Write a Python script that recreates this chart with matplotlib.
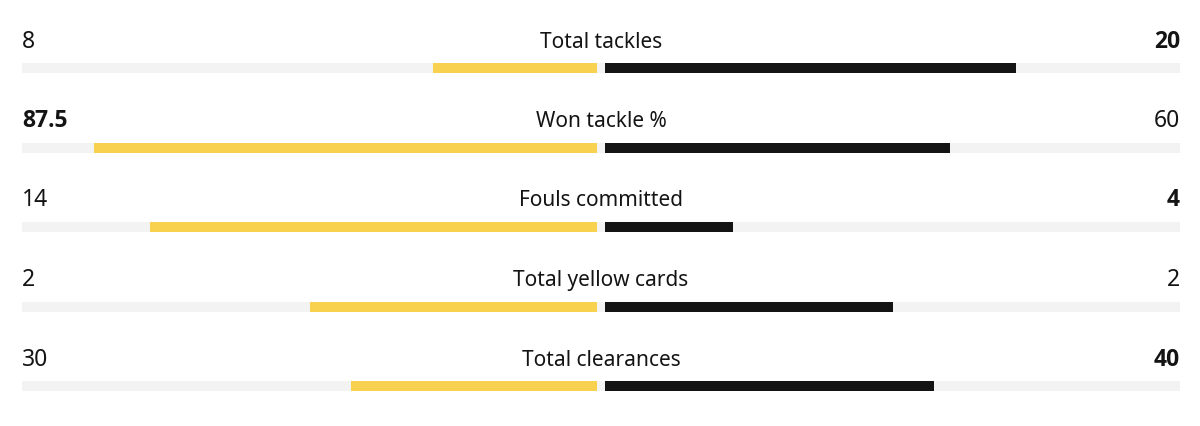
import matplotlib
matplotlib.use("Agg")
import matplotlib.pyplot as plt

stats = ["Total tackles", "Won tackle %", "Fouls committed", "Total yellow cards", "Total clearances"]
home = [8, 87.5, 14, 2, 30]
away = [20, 60, 4, 2, 40]
home_labels = ["8", "87.5", "14", "2", "30"]
away_labels = ["20", "60", "4", "2", "40"]
is_pct = [False, True, False, False, False]
# side that "wins" each stat (shown in bold); fewer fouls is better
leader = ["away", "home", "away", None, "away"]

YELLOW = "#f8d24f"
BLACK = "#141414"
TRACK = "#f3f3f3"

plt.rcParams["font.family"] = ["Noto Sans", "DejaVu Sans"]
BOLD_FAMILY = ["Open Sans", "DejaVu Sans"]

W, H = 1200, 426
fig = plt.figure(figsize=(W / 100, H / 100), dpi=100)
ax = fig.add_axes([22 / W, 0, 1158 / W, 1])
gap = 4 / 575
ax.set_xlim(-1 - gap, 1 + gap)
ax.set_ylim(H, 0)
ax.axis("off")


def value_text(x, y, s, ha, bold):
    if bold:
        ax.text(x, y, s, ha=ha, va="baseline", fontsize=16.5, color=BLACK,
                family=BOLD_FAMILY, fontweight="bold")
    else:
        ax.text(x, y, s, ha=ha, va="baseline", fontsize=16.5, color=BLACK)


for i, name in enumerate(stats):
    yc = 68 + 79.5 * i
    if is_pct[i]:
        hs, as_ = home[i] / 100, away[i] / 100
    else:
        tot = home[i] + away[i]
        hs, as_ = home[i] / tot, away[i] / tot
    ax.barh(yc, 2 + 2 * gap, left=-1 - gap, height=10, color=TRACK, lw=0)
    ax.barh(yc, -hs, left=-gap, height=10, color=YELLOW, lw=0)
    ax.barh(yc, as_, left=gap, height=10, color=BLACK, lw=0)

    ty = yc - 20.5
    value_text(-1 - gap, ty, home_labels[i], "left", leader[i] == "home")
    value_text(1 + gap, ty, away_labels[i], "right", leader[i] == "away")
    ax.text(0, ty, name, ha="center", va="baseline", fontsize=15, color=BLACK)

fig.savefig("out.png", dpi=100, facecolor="white")
